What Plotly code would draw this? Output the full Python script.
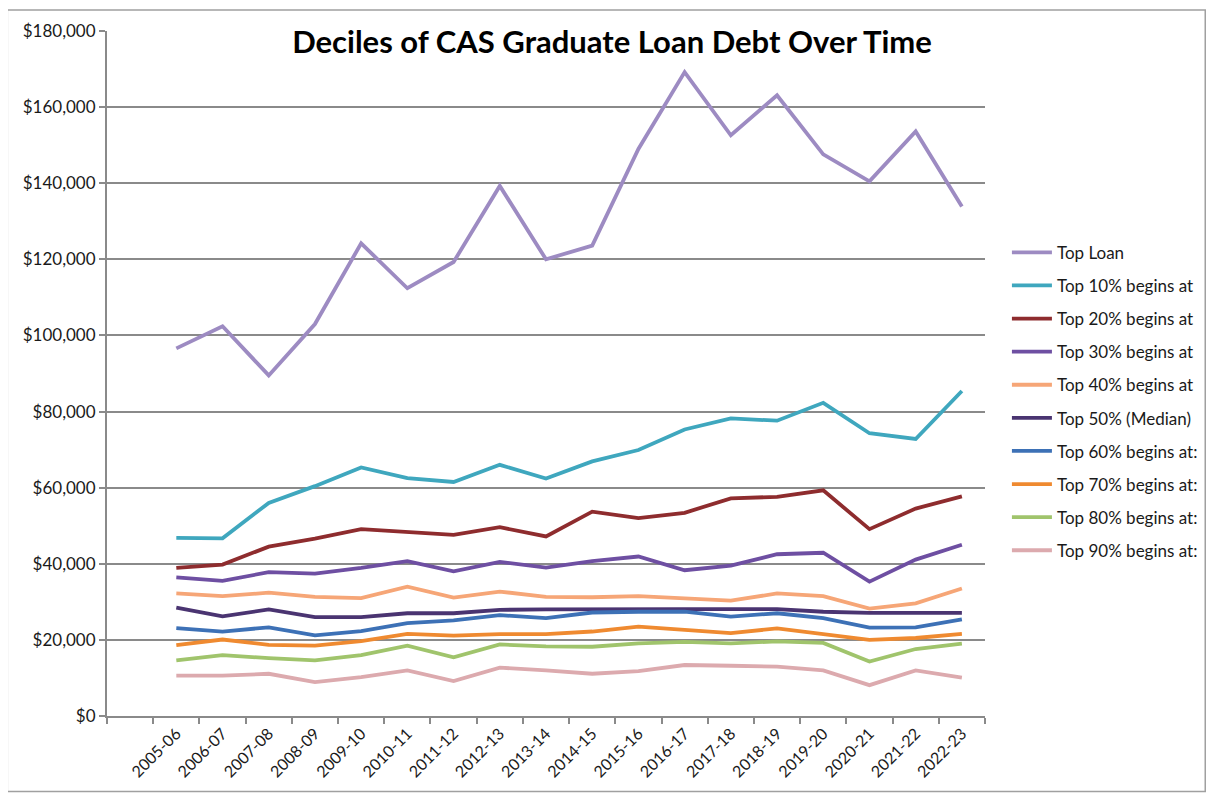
import plotly.graph_objects as go

years = ["2005-06", "2006-07", "2007-08", "2008-09", "2009-10", "2010-11",
         "2011-12", "2012-13", "2013-14", "2014-15", "2015-16", "2016-17",
         "2017-18", "2018-19", "2019-20", "2020-21", "2021-22", "2022-23"]

top_loan = [96600, 102400, 89500, 103000, 124200, 112400, 119300, 139300, 120000,
            123600, 149000, 169200, 152600, 163100, 147600, 140500, 153600, 133900]
top_10 = [46800, 46700, 56000, 60400, 65300, 62500, 61500, 66000, 62400,
          66900, 69900, 75300, 78200, 77600, 82300, 74300, 72800, 85400]
top_20 = [38900, 39800, 44500, 46600, 49100, 48400, 47600, 49600, 47200,
          53700, 52000, 53400, 57200, 57600, 59300, 49100, 54500, 57700]
top_30 = [36400, 35500, 37800, 37400, 38900, 40700, 38000, 40500, 39000,
          40700, 41900, 38300, 39500, 42500, 42900, 35300, 41100, 45000]
top_40 = [32200, 31500, 32400, 31300, 31000, 34000, 31100, 32700, 31300,
          31200, 31500, 31000, 30300, 32200, 31500, 28200, 29600, 33500]
top_50 = [28500, 26200, 28000, 26000, 26000, 27000, 27000, 27900, 28000,
          28100, 28100, 28100, 28100, 28100, 27400, 27100, 27100, 27100]
top_60 = [23100, 22200, 23300, 21200, 22300, 24400, 25100, 26500, 25700,
          27200, 27400, 27400, 26100, 27000, 25700, 23200, 23300, 25400]
top_70 = [18600, 20100, 18700, 18500, 19700, 21600, 21100, 21500, 21500,
          22200, 23500, 22600, 21800, 23000, 21600, 20000, 20500, 21600]
top_80 = [14600, 16000, 15200, 14600, 16000, 18500, 15400, 18800, 18300,
          18200, 19100, 19500, 19100, 19600, 19200, 14300, 17600, 19000]
top_90 = [10600, 10600, 11100, 8900, 10200, 12000, 9200, 12700, 12000,
          11100, 11800, 13400, 13200, 13000, 12000, 8100, 12000, 10100]

series_names = ["Top Loan", "Top 10% begins at", "Top 20% begins at",
                "Top 30% begins at", "Top 40% begins at", "Top 50% (Median)",
                "Top 60% begins at:", "Top 70% begins at:", "Top 80% begins at:",
                "Top 90% begins at:"]
series_values = [top_loan, top_10, top_20, top_30, top_40, top_50,
                 top_60, top_70, top_80, top_90]
series_colors = ["#9d8bc2", "#3fa7be", "#8e2c2e", "#6e4fa2", "#f6a677",
                 "#4a3471", "#3d71b6", "#ef8a30", "#a0c46c", "#dcaaae"]

y_ticks = list(range(0, 180001, 20000))
title_text = "Deciles of CAS Graduate Loan Debt Over Time"

FONT = "Lato"
OFF = 8                      # page body margin
SW, SH = 1215, 798           # screen size
W, H = SW - OFF, SH - OFF    # figure size
# plot-area edges in screen pixels
L, R, T, B = 107, 988, 27, 716

def px_x(p):
    return (p - L) / (R - L)

def px_y(p):
    return (B - p) / (B - T)

fig = go.Figure()
for i, (name, vals, col) in enumerate(zip(series_names, series_values, series_colors)):
    fig.add_trace(go.Scatter(
        x=years, y=vals, name=name, mode="lines",
        line=dict(color=col, width=3.8),
        legendgroup=f"g{i}",
    ))

fig.update_layout(
    width=W, height=H,
    margin=dict(l=L - OFF, r=W - (R - OFF), t=T - OFF, b=H - (B - OFF), pad=0),
    paper_bgcolor="white", plot_bgcolor="white",
    font=dict(family=FONT, size=17, color="#1a1a1a"),
    title=dict(text="<b>" + title_text + "</b>", x=(612 - OFF) / W, xanchor="center",
               y=1 - (42 - OFF) / H, yanchor="middle", xref="container", yref="container",
               font=dict(family=FONT, size=31, color="#000000")),
    showlegend=True,
    legend=dict(x=px_x(1010), y=px_y(232), xanchor="left", yanchor="top",
                font=dict(family=FONT, size=17, color="#1a1a1a"),
                tracegroupgap=8, bgcolor="rgba(0,0,0,0)", itemwidth=40),
    xaxis=dict(type="category", categoryorder="array",
               categoryarray=[" "] + years, range=[-0.5, len(years) + 0.5],
               tickson="boundaries", ticks="outside", ticklen=6, tickwidth=1.5,
               tickcolor="#8a8a8a", showline=True, linecolor="#8a8a8a", linewidth=2,
               showgrid=False, tickangle=-45, tickfont=dict(family=FONT, size=16)),
    yaxis=dict(range=[0, 180000], tickvals=y_ticks, tickformat="$,.0f",
               ticks="outside", ticklen=6, tickwidth=1.5, tickcolor="#8a8a8a",
               showline=True, linecolor="#8a8a8a", linewidth=2,
               showgrid=True, gridcolor="#8a8a8a", gridwidth=1.6, zeroline=False,
               tickfont=dict(family=FONT, size=17)),
    shapes=[dict(type="rect", xref="paper", yref="paper",
                 x0=px_x(7), x1=px_x(1209), y0=px_y(792), y1=px_y(6),
                 line=dict(color="#a0a0a0", width=1.5), fillcolor="rgba(0,0,0,0)",
                 layer="below")],
)

fig.write_html("out.html")
